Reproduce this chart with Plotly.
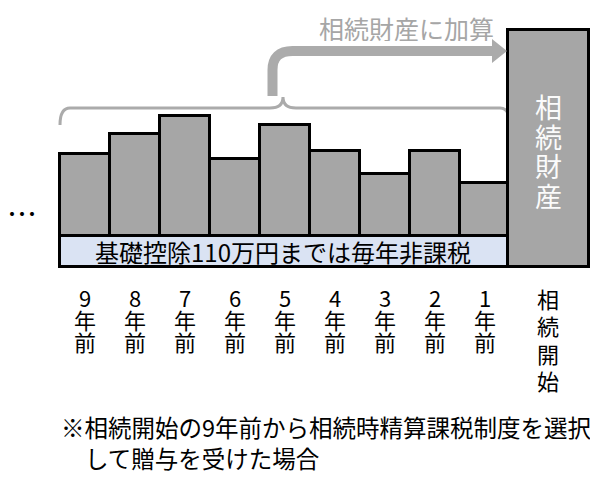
import plotly.graph_objects as go

# ---- data ----
periods = ["9年前", "8年前", "7年前", "6年前", "5年前", "4年前", "3年前", "2年前", "1年前"]
gift_values = [82, 102, 120, 77, 111, 85, 62, 85, 53]
deduction_band = 31
estate_label = "相続開始"
estate_value = 237
band_text = "基礎控除110万円までは毎年非課税"
estate_text = "相続財産"
arrow_text = "相続財産に加算"
footnote_lines = ["※相続開始の9年前から相続時精算課税制度を選択", "して贈与を受けた場合"]

FONT = "Noto Sans CJK JP"
GRAY = "#a6a6a6"
DECO = "#ababab"

xs = list(range(len(periods)))
left_edge = xs[0] - 0.5
right_edge = xs[-1] + 0.5
estate_w = 1.62
estate_x = right_edge + estate_w / 2 - 0.05


def vertical(text, glyph_px):
    """Stack characters vertically; line pitch comes from the outer font size."""
    return "<br>".join(f"<span style='font-size:{glyph_px}px'>{ch}</span>" for ch in text)


fig = go.Figure()
fig.add_trace(go.Bar(x=xs, y=gift_values, width=[1] * len(xs),
                     marker=dict(color=GRAY, line=dict(color="black", width=3))))
fig.add_trace(go.Bar(x=[(left_edge + right_edge) / 2], y=[deduction_band], base=[-deduction_band],
                     width=[right_edge - left_edge],
                     marker=dict(color="#dae3f3", line=dict(color="black", width=3))))
fig.add_trace(go.Bar(x=[estate_x], y=[estate_value], base=[-deduction_band], width=[estate_w],
                     marker=dict(color=GRAY, line=dict(color="black", width=3))))

ann = []
# period labels (vertical text), pitch 22px
for x, p in zip(xs, periods):
    ann.append(dict(x=x, y=-83.5, text=vertical(p, 22), showarrow=False,
                    font=dict(size=17, color="black", family=FONT)))
# 相続開始 label, pitch ~27px
ann.append(dict(x=estate_x, y=-103.5, text=vertical(estate_label, 22), showarrow=False,
                font=dict(size=21, color="black", family=FONT)))
# text inside estate bar, pitch ~29.5px
ann.append(dict(x=estate_x, y=85, text=vertical(estate_text, 27), showarrow=False,
                font=dict(size=22.7, color="#fbfbfb", family=FONT)))
# band text
ann.append(dict(x=3.95, y=-deduction_band / 2, text=band_text, showarrow=False,
                font=dict(size=24, color="black", family=FONT)))
# dots
ann.append(dict(x=left_edge - 0.76, y=23.5, text="…", showarrow=False,
                font=dict(size=30, color="black", family=FONT)))
# arrow title
ann.append(dict(x=6.42, y=208, text=arrow_text, showarrow=False, height=26,
                font=dict(size=25, color=GRAY, family=FONT)))
# footnote
ann.append(dict(x=left_edge - 0.03, y=-191, text=footnote_lines[0], showarrow=False, xanchor="left",
                font=dict(size=23.5, color="black", family=FONT)))
ann.append(dict(x=left_edge + 0.46, y=-222, text=footnote_lines[1], showarrow=False, xanchor="left",
                font=dict(size=23.5, color="black", family=FONT)))

# brace above the yearly bars
by = max(gift_values) + 7.5
cusp = 3.96
brace = (f"M {left_edge},{by-17} Q {left_edge},{by} {left_edge+0.2},{by} "
         f"L {cusp-0.26},{by} Q {cusp},{by} {cusp},{by+11} "
         f"Q {cusp},{by} {cusp+0.26},{by} L {right_edge-0.2},{by} "
         f"Q {right_edge},{by} {right_edge},{by-17}")
# arrow from brace to estate bar
ax0 = 3.75
ay0 = by + 12
ay1 = 184.5
ax_end = 8.14
arrow = (f"M {ax0},{ay0} L {ax0},{ay1-19} Q {ax0},{ay1} {ax0+0.4},{ay1} L {ax_end},{ay1}")
head = f"M {ax_end},{ay1+12} L {ax_end+0.3},{ay1} L {ax_end},{ay1-12} Z"

# page body has an 8px margin: size the figure so it fits the window exactly
fig.update_layout(
    shapes=[
        dict(type="path", path=brace, line=dict(color=DECO, width=3), xref="x", yref="y", layer="below"),
        dict(type="path", path=arrow, line=dict(color=DECO, width=10), xref="x", yref="y"),
        dict(type="path", path=head, line=dict(width=0), fillcolor=DECO, xref="x", yref="y"),
    ],
    annotations=ann,
    width=582, height=469,
    margin=dict(l=0, r=0, t=0, b=0),
    barmode="overlay", bargap=0,
    showlegend=False,
    plot_bgcolor="white", paper_bgcolor="white",
    xaxis=dict(range=[-1.54, 10.1], visible=False, fixedrange=True),
    yaxis=dict(range=[-241.5, 227.5], visible=False, fixedrange=True),
    font=dict(family=FONT),
)

fig.write_html("out.html")
